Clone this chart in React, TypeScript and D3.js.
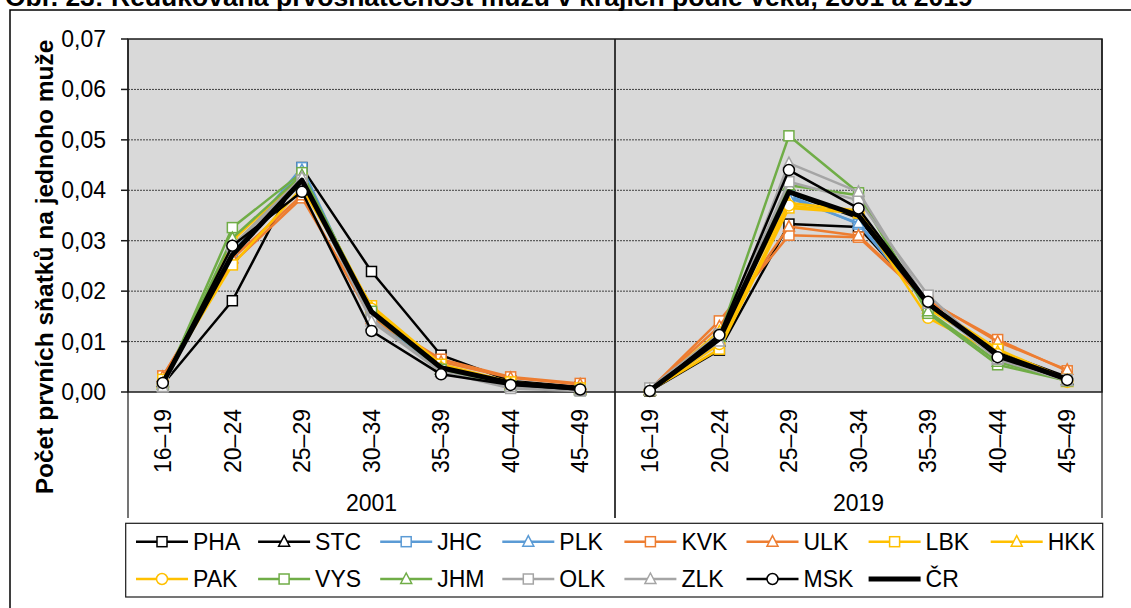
import React from 'react';
import * as d3 from 'd3';

const AGE_GROUPS = ['16–19', '20–24', '25–29', '30–34', '35–39', '40–44', '45–49'];
const YEARS = ['2001', '2019'];
const Y_TICKS = [0, 0.01, 0.02, 0.03, 0.04, 0.05, 0.06, 0.07];

const REGIONS = ['PHA', 'STC', 'JHC', 'PLK', 'KVK', 'ULK', 'LBK', 'HKK', 'PAK', 'VYS', 'JHM', 'OLK', 'ZLK', 'MSK', 'ČR'];
const COLORS = ['#000000', '#000000', '#5B9BD5', '#5B9BD5', '#ED7D31', '#ED7D31', '#FFC000', '#FFC000', '#FFC000', '#70AD47', '#70AD47', '#A5A5A5', '#A5A5A5', '#000000', '#000000'];
const MARKERS = ['square', 'triangle', 'square', 'triangle', 'square', 'triangle', 'square', 'triangle', 'circle', 'square', 'triangle', 'square', 'triangle', 'circle', 'none'];

const PHA_2001 = [0.0015, 0.0181, 0.0445, 0.0239, 0.0073, 0.0022, 0.0010];
const STC_2001 = [0.0020, 0.0272, 0.0425, 0.0150, 0.0045, 0.0016, 0.0006];
const JHC_2001 = [0.0020, 0.0280, 0.0445, 0.0150, 0.0045, 0.0015, 0.0005];
const PLK_2001 = [0.0022, 0.0275, 0.0440, 0.0155, 0.0050, 0.0018, 0.0006];
const KVK_2001 = [0.0032, 0.0255, 0.0385, 0.0150, 0.0065, 0.0030, 0.0017];
const ULK_2001 = [0.0030, 0.0265, 0.0390, 0.0145, 0.0060, 0.0028, 0.0015];
const LBK_2001 = [0.0025, 0.0252, 0.0405, 0.0171, 0.0055, 0.0020, 0.0008];
const HKK_2001 = [0.0018, 0.0290, 0.0425, 0.0168, 0.0050, 0.0017, 0.0006];
const PAK_2001 = [0.0015, 0.0300, 0.0430, 0.0165, 0.0047, 0.0015, 0.0005];
const VYS_2001 = [0.0012, 0.0326, 0.0435, 0.0160, 0.0045, 0.0012, 0.0003];
const JHM_2001 = [0.0015, 0.0305, 0.0430, 0.0155, 0.0045, 0.0013, 0.0004];
const OLK_2001 = [0.0010, 0.0285, 0.0420, 0.0145, 0.0040, 0.0007, 0.0002];
const ZLK_2001 = [0.0010, 0.0290, 0.0425, 0.0140, 0.0040, 0.0010, 0.0003];
const MSK_2001 = [0.0018, 0.0290, 0.0397, 0.0121, 0.0035, 0.0014, 0.0005];
const CR_2001 = [0.0018, 0.0272, 0.0420, 0.0159, 0.0048, 0.0018, 0.0007];

const PHA_2019 = [0.0002, 0.0083, 0.0333, 0.0327, 0.0175, 0.0080, 0.0030];
const STC_2019 = [0.0003, 0.0100, 0.0394, 0.0345, 0.0172, 0.0075, 0.0025];
const JHC_2019 = [0.0003, 0.0105, 0.0390, 0.0333, 0.0170, 0.0070, 0.0022];
const PLK_2019 = [0.0003, 0.0110, 0.0385, 0.0335, 0.0172, 0.0072, 0.0023];
const KVK_2019 = [0.0005, 0.0141, 0.0311, 0.0307, 0.0180, 0.0104, 0.0042];
const ULK_2019 = [0.0005, 0.0130, 0.0328, 0.0310, 0.0182, 0.0100, 0.0044];
const LBK_2019 = [0.0003, 0.0085, 0.0365, 0.0355, 0.0175, 0.0085, 0.0025];
const HKK_2019 = [0.0003, 0.0120, 0.0375, 0.0360, 0.0165, 0.0080, 0.0020];
const PAK_2019 = [0.0003, 0.0095, 0.0370, 0.0355, 0.0147, 0.0075, 0.0020];
const VYS_2019 = [0.0005, 0.0110, 0.0508, 0.0395, 0.0156, 0.0054, 0.0022];
const JHM_2019 = [0.0004, 0.0110, 0.0410, 0.0390, 0.0160, 0.0060, 0.0022];
const OLK_2019 = [0.0008, 0.0115, 0.0417, 0.0380, 0.0192, 0.0065, 0.0025];
const ZLK_2019 = [0.0003, 0.0100, 0.0454, 0.0397, 0.0175, 0.0065, 0.0022];
const MSK_2019 = [0.0002, 0.0113, 0.0440, 0.0364, 0.0179, 0.0069, 0.0024];
const CR_2019 = [0.0003, 0.0105, 0.0397, 0.0350, 0.0175, 0.0075, 0.0025];

const VALUES_2001 = [PHA_2001, STC_2001, JHC_2001, PLK_2001, KVK_2001, ULK_2001, LBK_2001, HKK_2001, PAK_2001, VYS_2001, JHM_2001, OLK_2001, ZLK_2001, MSK_2001, CR_2001];
const VALUES_2019 = [PHA_2019, STC_2019, JHC_2019, PLK_2019, KVK_2019, ULK_2019, LBK_2019, HKK_2019, PAK_2019, VYS_2019, JHM_2019, OLK_2019, ZLK_2019, MSK_2019, CR_2019];

const W = 1131;
const H = 608;
const PL = 128, PR = 1102, PT = 39, PB = 392;
const FONT = '"Liberation Sans", Arial, sans-serif';

function Marker({ type, x, y, color }: { type: string; x: number; y: number; color: string }) {
  if (type === 'square') {
    return <rect x={x - 5} y={y - 5} width={10} height={10} fill="#fff" stroke={color} strokeWidth={1.5} />;
  }
  if (type === 'triangle') {
    const p = `${x},${y - 6} ${x + 5.5},${y + 4.5} ${x - 5.5},${y + 4.5}`;
    return <polygon points={p} fill="#fff" stroke={color} strokeWidth={1.5} />;
  }
  if (type === 'circle') {
    return <circle cx={x} cy={y} r={5.5} fill="#fff" stroke={color} strokeWidth={1.5} />;
  }
  return null;
}

export default function App() {
  const keys = YEARS.flatMap((yr) => AGE_GROUPS.map((a) => `${yr}|${a}`));
  const x = d3.scaleBand<string>().domain(keys).range([PL, PR]);
  const y = d3.scaleLinear().domain([0, 0.07]).range([PB, PT]);
  const cx = (yr: string, a: string) => (x(`${yr}|${a}`) as number) + x.bandwidth() / 2;
  const fmt = (v: number) => d3.format('.2f')(v).replace('.', ',');

  const order = [0, 1, 2, 3, 4, 5, 6, 7, 8, 9, 10, 11, 12, 14, 13];
  const yearData = [VALUES_2001, VALUES_2019];

  const groupEdges = YEARS.map((yr) => [x(`${yr}|${AGE_GROUPS[0]}`) as number, (x(`${yr}|${AGE_GROUPS[AGE_GROUPS.length - 1]}`) as number) + x.bandwidth()]);

  const legendX0 = 136, legendDX = 122.1;
  const legendRows = [541.7, 579];

  return (
    <svg width={W} height={H} style={{ position: 'absolute', left: 0, top: 0, background: '#fff' }} fontFamily={FONT}>
      <text x={5} y={5.5} fontSize={26.5} fontWeight="bold">Obr. 23: Redukovaná prvosňatečnost mužů v krajích podle věku, 2001 a 2019</text>
      <path d={`M10,${H + 5} L10,10 L${W + 5},10`} fill="none" stroke="#000" strokeWidth={1.5} />

      <rect x={PL} y={PT} width={PR - PL} height={PB - PT} fill="#D9D9D9" />
      {Y_TICKS.filter((t) => t > 0 && t < 0.07).map((t) => (
        <line key={t} x1={PL} x2={PR} y1={y(t)} y2={y(t)} stroke="#404040" strokeWidth={1} strokeDasharray="2 1" />
      ))}
      <rect x={PL} y={PT} width={PR - PL} height={PB - PT} fill="none" stroke="#1a1a1a" strokeWidth={1.5} />
      {groupEdges.map(([a, b], i) => (
        <g key={i}>
          <line x1={a} x2={a} y1={PT} y2={518} stroke="#1a1a1a" strokeWidth={1.2} />
          <line x1={b} x2={b} y1={PT} y2={518} stroke="#1a1a1a" strokeWidth={1.2} />
        </g>
      ))}

      {Y_TICKS.map((t) => (
        <g key={t}>
          <line x1={PL - 7} x2={PL} y1={y(t)} y2={y(t)} stroke="#1a1a1a" strokeWidth={1.5} />
          <text x={106} y={y(t)} dy="0.35em" textAnchor="end" fontSize={23}>{fmt(t)}</text>
        </g>
      ))}

      {YEARS.map((yr) => AGE_GROUPS.map((a) => (
        <text key={yr + a} transform={`translate(${cx(yr, a)},409) rotate(-90)`} dy="0.36em" textAnchor="end" fontSize={23}>{a}</text>
      )))}
      {YEARS.map((yr, i) => (
        <text key={yr} x={(groupEdges[i][0] + groupEdges[i][1]) / 2} y={511} textAnchor="middle" fontSize={23}>{yr}</text>
      ))}

      <text transform={`translate(53,267) rotate(-90)`} textAnchor="middle" fontSize={24.5} fontWeight="bold">Počet prvních sňatků na jednoho muže</text>

      {order.map((si) => (
        <g key={REGIONS[si]}>
          {YEARS.map((yr, yi) => {
            const vals = yearData[yi][si];
            const line = d3.line<number>().x((_, i) => cx(yr, AGE_GROUPS[i])).y((v) => y(v));
            return (
              <g key={yr}>
                <path d={line(vals) as string} fill="none" stroke={COLORS[si]} strokeWidth={MARKERS[si] === 'none' ? 5 : 2.5} strokeLinejoin="round" />
                {vals.map((v, i) => (
                  <Marker key={i} type={MARKERS[si]} x={cx(yr, AGE_GROUPS[i])} y={y(v)} color={COLORS[si]} />
                ))}
              </g>
            );
          })}
        </g>
      ))}

      <rect x={125.7} y={523.3} width={1102.7 - 125.7} height={597 - 523.3} fill="#fff" stroke="#1a1a1a" strokeWidth={1.2} />
      {REGIONS.map((r, i) => {
        const row = i < 8 ? 0 : 1;
        const col = i < 8 ? i : i - 8;
        const lx = legendX0 + col * legendDX;
        const ly = legendRows[row];
        return (
          <g key={r}>
            <line x1={lx} x2={lx + 52} y1={ly} y2={ly} stroke={COLORS[i]} strokeWidth={MARKERS[i] === 'none' ? 5 : 2.5} />
            <Marker type={MARKERS[i]} x={lx + 26} y={ly} color={COLORS[i]} />
            <text x={lx + 57} y={ly} dy="0.36em" fontSize={23}>{r}</text>
          </g>
        );
      })}
    </svg>
  );
}
